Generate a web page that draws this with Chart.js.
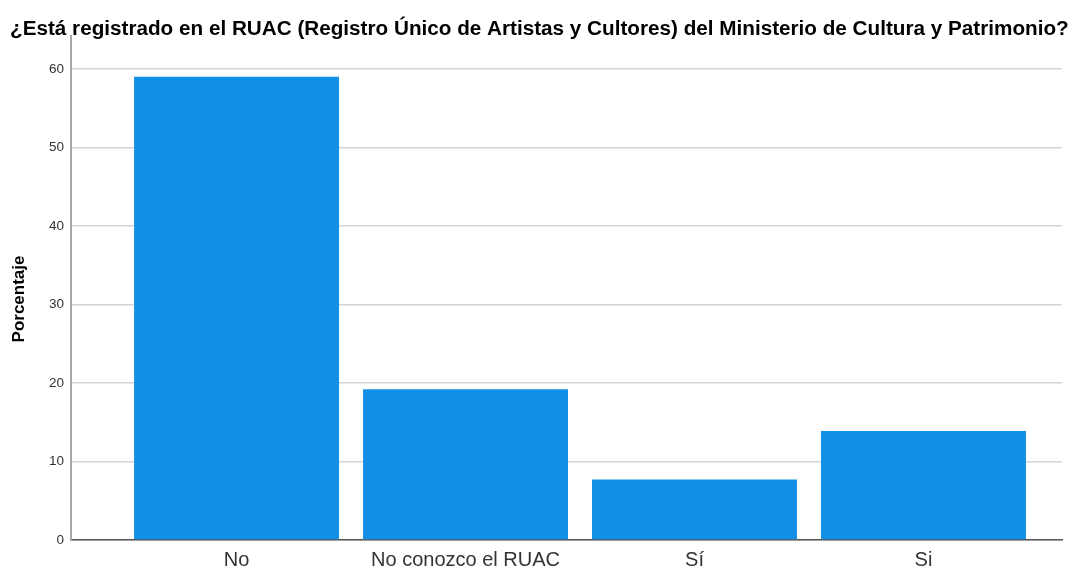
<!DOCTYPE html>
<html><head><meta charset="utf-8">
<script src="https://cdn.jsdelivr.net/npm/chart.js@4"></script>
<style>html,body{margin:0;padding:0;background:#fff}#wrap{width:1077px;height:569px;position:relative}</style>
</head><body><div id="wrap"><canvas id="c" width="1077" height="569"></canvas></div>
<script>
const chartTitle = "¿Está registrado en el RUAC (Registro Único de Artistas y Cultores) del Ministerio de Cultura y Patrimonio?";
const categories = ["No", "No conozco el RUAC", "Sí", "Si"];
const percentages = [59.0, 19.2, 7.7, 13.9];
const yTicks = [0, 10, 20, 30, 40, 50, 60];
const yAxisTitle = "Porcentaje";

const titlePlugin = {
  id: 'topTitle',
  afterDraw(chart) {
    const ctx = chart.ctx;
    ctx.save();
    ctx.font = 'bold 20.7px "Liberation Sans", Arial, sans-serif';
    ctx.fillStyle = '#000';
    ctx.textBaseline = 'middle';
    ctx.textAlign = 'left';
    ctx.fillText(chartTitle, 10, 29);
    ctx.restore();
    ctx.save();
    ctx.translate(19, 299);
    ctx.rotate(-Math.PI / 2);
    ctx.font = 'bold 17px "Liberation Sans", Arial, sans-serif';
    ctx.fillStyle = '#000';
    ctx.textBaseline = 'middle';
    ctx.textAlign = 'center';
    ctx.fillText(yAxisTitle, 0, 0);
    ctx.restore();
  }
};

new Chart(document.getElementById('c'), {
  type: 'bar',
  data: {
    datasets: [{
      data: percentages.map((v, i) => ({x: i, y: v})),
      backgroundColor: '#1290E6',
      borderWidth: 0,
      barPercentage: 0.895,
      categoryPercentage: 1.0
    }]
  },
  plugins: [titlePlugin],
  options: {
    responsive: false,
    animation: false,
    layout: {padding: {top: 36, right: 15, left: 0, bottom: 0}},
    plugins: {legend: {display: false}, tooltip: {enabled: false}, title: {display: false}},
    scales: {
      x: {
        type: 'linear',
        offset: false,
        min: -0.723,
        max: 3.605,
        afterBuildTicks(scale) { scale.ticks = categories.map((c, i) => ({value: i})); },
        afterFit(scale) { scale.height = 29; },
        ticks: {
          callback: (v) => categories[v],
          font: {family: '"Liberation Sans", Arial, sans-serif', size: 20},
          color: '#333',
          padding: 8,
          autoSkip: false,
          maxRotation: 0
        },
        grid: {display: false, drawTicks: false},
        border: {display: true, color: '#555', width: 1.5}
      },
      y: {
        min: 0,
        max: 64.2,
        afterBuildTicks(scale) { scale.ticks = yTicks.map(v => ({value: v})); },
        afterFit(scale) { scale.width = 71; },
        ticks: {
          font: {family: '"Liberation Sans", Arial, sans-serif', size: 13.5},
          color: '#333',
          padding: 7
        },
        grid: {color: '#d4d4d4', lineWidth: 1.6, drawTicks: false},
        border: {display: true, color: '#a8a8a8', width: 2},
        title: {display: false}
      }
    }
  }
});
</script></body></html>
